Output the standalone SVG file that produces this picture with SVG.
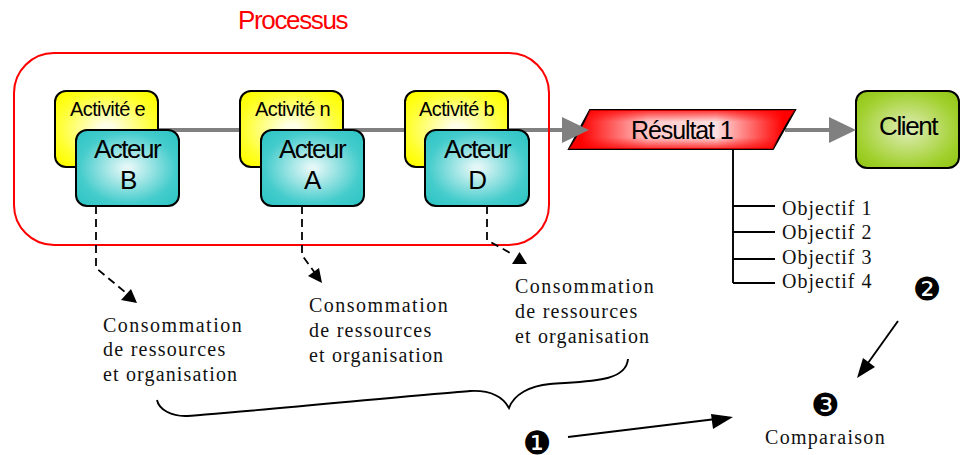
<svg xmlns="http://www.w3.org/2000/svg" width="960" height="455" viewBox="0 0 960 455">
<style>
text{font-family:"Liberation Sans",Arial,sans-serif;fill:#000}
.s{font-family:"Liberation Serif","Times New Roman",serif;font-size:20px;letter-spacing:1.5px;fill:#111}
.o{letter-spacing:1px}
.r{letter-spacing:1.25px}
.e{letter-spacing:1.15px}
.n{font-family:"DejaVu Sans",sans-serif;font-size:32px;text-anchor:middle}
.box{stroke:#000;stroke-width:2}
.y{fill:url(#gy)}.t{fill:url(#gt)}
.act{font-size:20px;letter-spacing:-.6px}
.ac{font-size:26px;letter-spacing:-1.5px;text-anchor:middle}
.g{stroke:#808080;stroke-width:4;fill:none}
.d{stroke:#000;stroke-width:1.8;fill:none;stroke-dasharray:8 5}
.k{stroke:#000;stroke-width:1.9;fill:none}
</style>
<defs>
<radialGradient id="gy" cx=".5" cy=".5" r=".62"><stop offset=".1" stop-color="#ffffe8"/><stop offset=".75" stop-color="#ffff30"/><stop offset="1" stop-color="#ffff00"/></radialGradient>
<radialGradient id="gt" cx=".5" cy=".5" r=".62"><stop offset=".05" stop-color="#e4f7f7"/><stop offset=".75" stop-color="#45cccc"/><stop offset="1" stop-color="#33c6c6"/></radialGradient>
<radialGradient id="gc" cx=".5" cy=".5" r=".62"><stop offset=".05" stop-color="#dcebb0"/><stop offset=".8" stop-color="#a0d02c"/><stop offset="1" stop-color="#96c81c"/></radialGradient>
<linearGradient id="gr" x1="0" x2="1" y1="0" y2="0"><stop offset=".05" stop-color="#ff0000"/><stop offset=".35" stop-color="#ffc8c8"/><stop offset=".65" stop-color="#ffe0e0"/><stop offset=".95" stop-color="#ff0000"/></linearGradient>
<linearGradient id="gv" x1="0" x2="0" y1="0" y2="1"><stop offset="0" stop-color="#ff0000" stop-opacity=".8"/><stop offset=".3" stop-color="#ff0000" stop-opacity="0"/><stop offset=".7" stop-color="#ff0000" stop-opacity="0"/><stop offset="1" stop-color="#ff0000" stop-opacity=".8"/></linearGradient>
</defs>

<g id="connectors-back">
<path class="g" d="M158 130H565"/>
<path class="g" d="M785 130H832"/>
</g>

<text x="238" y="29" font-size="26" letter-spacing="-1.35" style="fill:#ff0000">Processus</text>

<g id="processus"><rect x="14" y="53" width="535" height="192" rx="40" fill="none" stroke="#ff0000" stroke-width="2"/></g>

<g id="activite-e"><rect class="box y" x="55" y="91" width="103" height="76" rx="11"/><text class="act" x="70" y="116">Activité e</text></g>
<g id="acteur-b"><rect class="box t" x="76" y="130" width="103" height="76" rx="11"/><text class="ac" x="127" y="158">Acteur</text><text class="ac" x="128" y="189">B</text></g>
<g id="activite-n"><rect class="box y" x="240" y="91" width="103" height="76" rx="11"/><text class="act" x="255" y="116">Activité n</text></g>
<g id="acteur-a"><rect class="box t" x="261" y="130" width="103" height="76" rx="11"/><text class="ac" x="312" y="158">Acteur</text><text class="ac" x="312" y="189">A</text></g>
<g id="activite-b"><rect class="box y" x="405" y="91" width="103" height="76" rx="11"/><text class="act" x="419" y="116">Activité b</text></g>
<g id="acteur-d"><rect class="box t" x="425" y="130" width="104" height="76" rx="11"/><text class="ac" x="477" y="158">Acteur</text><text class="ac" x="477" y="189">D</text></g>

<g id="resultat"><polygon class="box" points="590,110 795,110 773,149 569,149" fill="url(#gr)"/><polygon points="590,110 795,110 773,149 569,149" fill="url(#gv)"/><text x="631" y="139" font-size="25" letter-spacing="-1.1">Résultat 1</text></g>
<g id="client"><rect class="box" x="856" y="91" width="103" height="77" rx="11" fill="url(#gc)"/><text x="879" y="135" font-size="26" letter-spacing="-1.4">Client</text></g>

<g id="connectors">
<polygon points="562,117 589,130 562,143" fill="#808080"/>
<polygon points="829,117 856,130 829,143" fill="#808080"/>
<path class="k" d="M733 149V283M733 206H775M733 232H775M733 259H775M733 283H775"/>
<path class="d" d="M96 206V268L125 292"/><polygon points="137,303 121,300 131,289"/>
<path class="d" d="M302 206V255L315 273"/><polygon points="322,283 308,276 319,268"/>
<path class="d" d="M487 206V240L512 254"/><polygon points="519.5,252 527,264 512,264"/>
<path class="k" d="M157 400C159 410 172 416 185 416C200 416 440 393 470 391C490 390 503 397 509 408C514 394 530 386 550 384C590 381 626 382 628 359"/>
<path class="k" d="M568 437L716 419"/><polygon points="733,417 713,429 711,414"/>
<path class="k" d="M898 321L868 363"/><polygon points="857,378 863,358 875,367"/>
</g>

<g id="objectifs">
<text class="s o" x="782" y="215">Objectif 1</text>
<text class="s o" x="782" y="239">Objectif 2</text>
<text class="s o" x="782" y="264">Objectif 3</text>
<text class="s o" x="782" y="288">Objectif 4</text>
</g>
<g id="conso-b"><text class="s" x="103" y="332">Consommation</text><text class="s r" x="103" y="356">de ressources</text><text class="s e" x="103" y="381">et organisation</text></g>
<g id="conso-a"><text class="s" x="309" y="312">Consommation</text><text class="s r" x="309" y="337">de ressources</text><text class="s e" x="309" y="362">et organisation</text></g>
<g id="conso-d"><text class="s" x="515" y="293">Consommation</text><text class="s r" x="515" y="318">de ressources</text><text class="s e" x="515" y="343">et organisation</text></g>

<g id="n1"><text class="n" x="537" y="454">❶</text></g>
<g id="n2"><text class="n" x="927" y="300">❷</text></g>
<g id="n3"><text class="n" x="825" y="416">❸</text></g>
<g id="comparaison"><text class="s" style="letter-spacing:1.3px" x="765" y="444">Comparaison</text></g>
</svg>
